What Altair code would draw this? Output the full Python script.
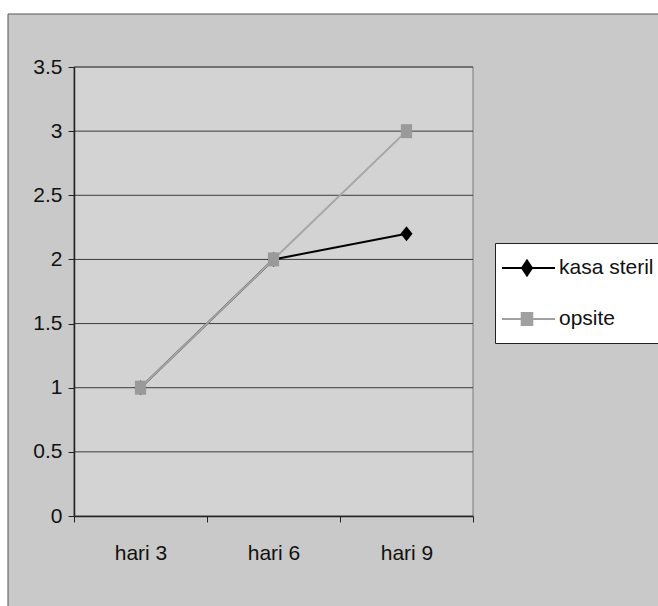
import altair as alt
import pandas as pd

# ---- data ----
categories = ["hari 3", "hari 6", "hari 9"]
kasa_steril = [1, 2, 2.2]
opsite = [1, 2, 3]
series_names = ["kasa steril", "opsite"]
y_ticks = [0, 0.5, 1, 1.5, 2, 2.5, 3, 3.5]
grid_vals = [0.5, 1, 1.5, 2, 2.5, 3, 3.5]

rows = []
for c, v in zip(categories, kasa_steril):
    rows.append({"cat": c, "value": v, "series": "kasa steril"})
for c, v in zip(categories, opsite):
    rows.append({"cat": c, "value": v, "series": "opsite"})
df = pd.DataFrame(rows)
grid_df = pd.DataFrame({"value": grid_vals})
one = pd.DataFrame({"a": [0]})

FONT = "Liberation Sans, Arial, sans-serif"
FS = 21
W, H = 399, 449

xenc = alt.X(
    "cat:N",
    sort=categories,
    bandPosition=0.5,
    scale=alt.Scale(type="band", domain=categories, paddingInner=0, paddingOuter=0),
    axis=alt.Axis(title=None, labelAngle=0, tickBand="extent", labelPadding=20, zindex=1,
                  labelFont=FONT, labelFontSize=FS, labelColor="#111111",
                  domainColor="#222222", domainWidth=1.5, tickColor="#222222", tickSize=6),
)
yscale = alt.Scale(domain=[0, 3.5], nice=False, zero=True)
yenc = alt.Y(
    "value:Q",
    scale=yscale,
    axis=alt.Axis(title=None, values=y_ticks, format="~g", grid=False, labelPadding=6, zindex=1,
                  labelFont=FONT, labelFontSize=FS, labelColor="#111111",
                  domainColor="#222222", domainWidth=1.5, tickColor="#222222", tickSize=6),
)

# background frame (decoration)
frame = alt.Chart(one).mark_rect(fill="#c9c9c9", stroke="#555555", strokeWidth=1).encode(
    x=alt.value(-66), x2=alt.value(620), y=alt.value(-53), y2=alt.value(580)
)
plotbg = alt.Chart(one).mark_rect(fill="#d3d3d3", stroke="#7a7a7a", strokeWidth=1).encode(
    x=alt.value(0), x2=alt.value("width"), y=alt.value(0), y2=alt.value("height")
)
grid = alt.Chart(grid_df).mark_rule(color="#3c3c3c", strokeWidth=1).encode(
    y=yenc, x=alt.value(0), x2=alt.value("width")
)

kasa_df = df[df.series == "kasa steril"]
ops_df = df[df.series == "opsite"]

kasa_line = alt.Chart(kasa_df).mark_line(color="#000000", strokeWidth=2).encode(x=xenc, y=yenc)
kasa_pts = alt.Chart(kasa_df).mark_point(
    shape="M0,-1L0.8,0L0,1L-0.8,0Z", filled=True, color="#000000", size=225, opacity=1
).encode(x=xenc, y=yenc)
ops_line = alt.Chart(ops_df).mark_line(color="#a6a6a6", strokeWidth=2).encode(x=xenc, y=yenc)
ops_pts = alt.Chart(ops_df).mark_point(
    shape="M-0.8,-1L0.8,-1L0.8,1L-0.8,1Z", filled=True, color="#9a9a9a", size=196, opacity=1
).encode(x=xenc, y=yenc)

legend_paths = [
    "M-1.8,0L3.5,0M0.7,-0.75L1.2,0L0.7,0.75L0.2,0Z",
    "M-1.8,0L3.5,0M0.17,-0.6L1.23,-0.6L1.23,0.6L0.17,0.6Z",
]
legend_colors = ["#000000", "#a0a0a0"]


def mk_legend():
    return alt.Legend(
        title=None,
        orient="none",
        legendX=421,
        legendY=176,
        fillColor="#ffffff",
        strokeColor="#222222",
        padding=14,
        rowPadding=28,
        labelFont=FONT,
        labelFontSize=FS,
        labelColor="#111111",
        labelOffset=28,
        symbolSize=400,
        symbolStrokeWidth=2,
        symbolOpacity=1,
    )


legend_layer = alt.Chart(df).mark_point(filled=True, size=100).encode(
    color=alt.Color("series:N", scale=alt.Scale(domain=series_names, range=legend_colors), legend=mk_legend()),
    stroke=alt.Stroke("series:N", scale=alt.Scale(domain=series_names, range=legend_colors), legend=mk_legend()),
    shape=alt.Shape("series:N", scale=alt.Scale(domain=series_names, range=legend_paths), legend=mk_legend()),
).transform_filter("datum.value < 0")

chart = (
    alt.layer(frame, plotbg, grid, kasa_line, kasa_pts, ops_line, ops_pts, legend_layer)
    .properties(
        width=W,
        height=H,
        autosize=alt.AutoSizeParams(type="none"),
        padding={"left": 74, "top": 67, "right": 185, "bottom": 90},
        background="#ffffff",
    )
    .configure_view(stroke=None, fill=None)
)

chart.save("out.html", embed_options={"renderer": "svg", "actions": False})
